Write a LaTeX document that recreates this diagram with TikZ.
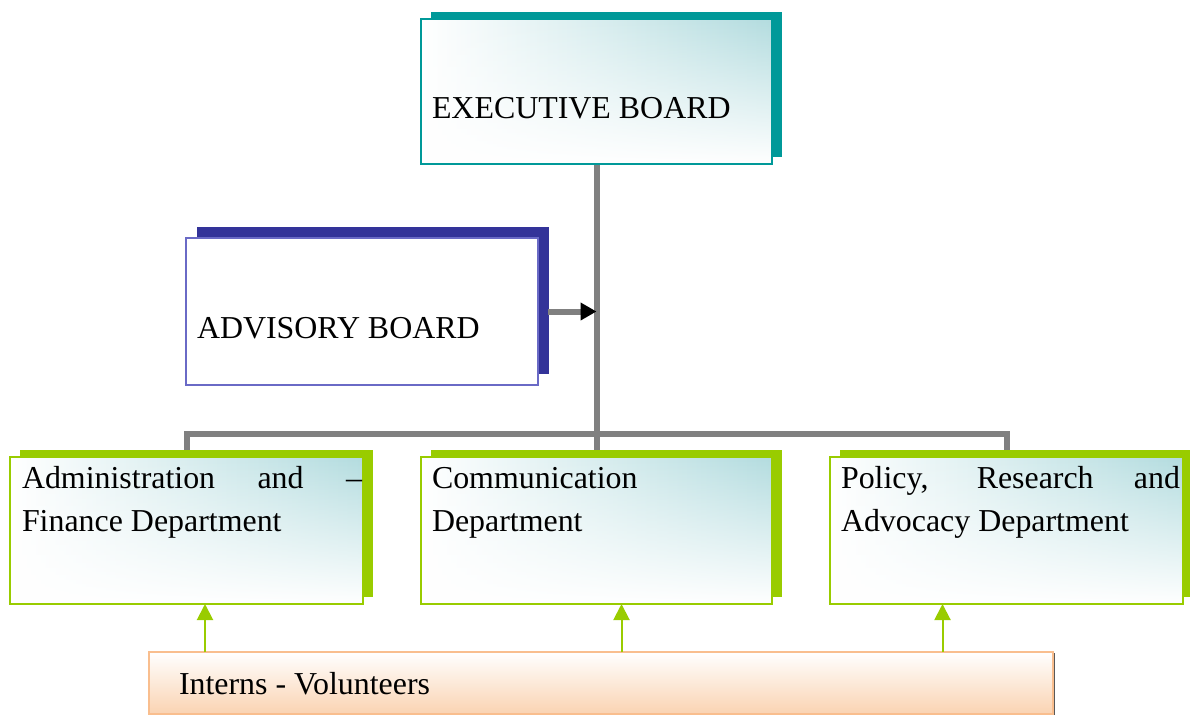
\documentclass[tikz,border=0pt]{standalone}
\usepackage{fontspec}
\setmainfont{Liberation Serif}
\usetikzlibrary{arrows.meta,shadows,fadings,backgrounds}
\definecolor{tealD}{HTML}{009999}
\definecolor{tealL}{HTML}{B3DCDF}
\definecolor{navy}{HTML}{333399}
\definecolor{navyL}{HTML}{6A6AC6}
\definecolor{lime}{HTML}{99CC00}
\definecolor{grayL}{HTML}{808080}
\definecolor{peachB}{HTML}{F9BE8E}
\definecolor{peachF}{HTML}{FAD3B2}
\tikzfading[name=fadeup, bottom color=transparent!0, middle color=transparent!60, top color=transparent!100]
\tikzset{
  box/.style={rectangle, inner sep=0pt, outer sep=0pt, anchor=north west, line width=1.6pt},
  tealfill/.style={left color=white, right color=tealL,
    path picture={\fill[white, path fading=fadeup] (path picture bounding box.south west) rectangle (path picture bounding box.north east);}},
  execbox/.style={box, draw=tealD, tealfill,
    drop shadow={shadow xshift=9.5pt, shadow yshift=7.5pt, fill=tealD, opacity=1}},
  advbox/.style={box, draw=navyL, fill=white,
    drop shadow={shadow xshift=10.5pt, shadow yshift=11pt, fill=navy, opacity=1}},
  deptbox/.style={box, draw=lime, tealfill,
    drop shadow={shadow xshift=10pt, shadow yshift=7.5pt, fill=lime, opacity=1}},
  internbox/.style={box, draw=peachB, top color=white, bottom color=peachF,
    drop shadow={shadow xshift=1.5pt, shadow yshift=-1pt, fill=black!65, opacity=1}},
  lbl/.style={anchor=base west, inner sep=0pt, outer sep=0pt, font=\fontsize{31.9}{40}\selectfont},
  grayline/.style={draw=grayL, line width=6pt},
  greenarrow/.style={draw=lime, line width=2pt, -{Triangle[length=16pt, width=16pt]}}
}
\begin{document}
\begin{tikzpicture}[x=1pt, y=-1pt]
\useasboundingbox (0,0) rectangle (1190,715);

% boxes
\node[execbox, minimum width=351pt, minimum height=145pt] (exec) at (421,19) {};
\node[advbox, minimum width=352pt, minimum height=147pt] (adv) at (186,238) {};
\node[deptbox, minimum width=353pt, minimum height=147pt] (admin) at (10,457) {};
\node[deptbox, minimum width=351pt, minimum height=147pt] (comm) at (421,457) {};
\node[deptbox, minimum width=353pt, minimum height=147pt] (policy) at (830,457) {};
\node[internbox, minimum width=904pt, minimum height=62pt] (interns) at (149,652) {};

% texts
\node[lbl] (execT) at (432,118) {EXECUTIVE BOARD};
\node[lbl] (advT) at (197,338) {ADVISORY BOARD};
\node[lbl] (adminT1) at (22,488) {\makebox[340pt][s]{Administration and –}};
\node[lbl] (adminT2) at (22,531) {Finance Department};
\node[lbl] (commT1) at (432,488) {Communication};
\node[lbl] (commT2) at (432,531) {Department};
\node[lbl] (policyT1) at (841,488) {\makebox[339pt][s]{Policy, Research and}};
\node[lbl] (policyT2) at (841,531) {Advocacy Department};
\node[lbl] (internsT) at (179,694) {Interns - Volunteers};

% gray connectors
\coordinate (bus) at (596.5,434);
\begin{scope}[on background layer]
  \draw[grayline] (exec.south) -- (comm.north);
  \draw[grayline] (admin.north) -- (admin.north |- bus) -- (policy.north |- bus) -- (policy.north);
\end{scope}
\draw[grayline, -{Triangle[length=16pt, width=17pt, color=black]}] ([xshift=10pt]adv.east) -- (adv.east -| exec.south);

% green arrows
\coordinate (a1) at ([xshift=18.5pt]admin.south);
\coordinate (a2) at ([xshift=25pt]comm.south);
\coordinate (a3) at ([xshift=-64pt]policy.south);
\draw[greenarrow] (interns.north -| a1) -- (a1);
\draw[greenarrow] (interns.north -| a2) -- (a2);
\draw[greenarrow] (interns.north -| a3) -- (a3);
\end{tikzpicture}
\end{document}
